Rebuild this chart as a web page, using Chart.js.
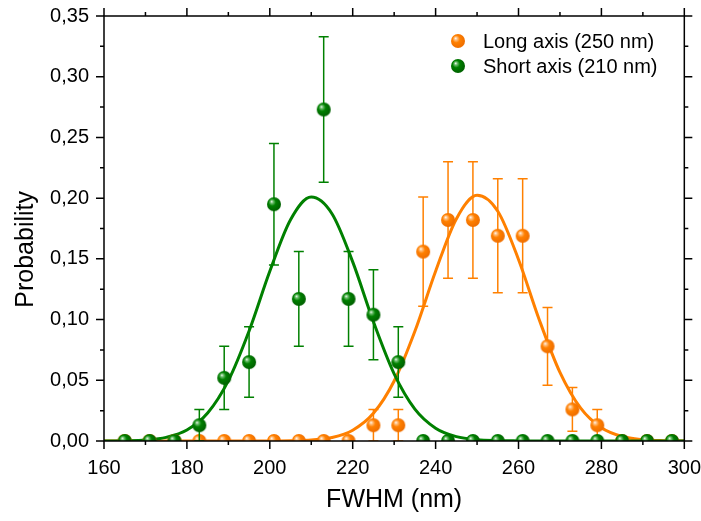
<!DOCTYPE html>
<html>
<head>
<meta charset="utf-8">
<script src="https://cdn.jsdelivr.net/npm/chart.js@4.4.1/dist/chart.umd.min.js"></script>
<style>
body{margin:0;background:#fff}
</style>
</head>
<body>
<canvas id="myChart" width="701" height="521"></canvas>
<script>
// histogram bins (nm) and probabilities
var bins = [165,171,177,183,189,195,201,207,213,219,225,231,237,243,249,255,261,267,273,279,285,291,297]
var longProb = [0,0,0,0,0,0,0,0,0,0,0.013,0.013,0.156,0.182,0.182,0.169,0.169,0.078,0.026,0.013,0,0,0]
var longErr  = [0,0,0,0,0,0,0,0,0,0,0.013,0.013,0.045,0.048,0.048,0.047,0.047,0.032,0.018,0.013,0,0,0]
var shortProb = [0,0,0,0.013,0.052,0.065,0.195,0.117,0.273,0.117,0.104,0.065,0,0,0,0,0,0,0,0,0,0,0]
var shortErr  = [0,0,0,0.013,0.026,0.029,0.050,0.039,0.060,0.039,0.037,0.029,0,0,0,0,0,0,0,0,0,0,0]

// fitted curves
var fitX = [160,165,170,175,180,185,190,195,200,205,210,215,220,225,230,235,240,245,250,255,260,265,270,275,280,285,290,295,300]
var longFit = [0,0,0,0,0,0,0,0,0,0.0002,0.0008,0.0029,0.0089,0.0228,0.0494,0.0904,0.1398,0.1829,0.2023,0.1892,0.1495,0.0999,0.0565,0.0270,0.0109,0.0037,0.0011,0.0003,0.0001]
var shortFit = [0,0.0002,0.0008,0.0030,0.0090,0.0230,0.0497,0.0906,0.1398,0.1822,0.2009,0.1872,0.1475,0.0982,0.0553,0.0263,0.0106,0.0036,0.0010,0.0003,0.0001,0,0,0,0,0,0,0,0]

var labels = ["Long axis (250 nm)", "Short axis (210 nm)"]
var orange = "#FF8000"
var green = "#008000"

Chart.defaults.font.family = "'Liberation Sans', Arial, sans-serif"
Chart.defaults.color = "#000"

function ball(color, light, dark){
    var r = 7
    var c = document.createElement("canvas")
    c.width = 2*r+2
    c.height = 2*r+2
    var g = c.getContext("2d")
    var cx = r+1, cy = r+1
    var grad = g.createRadialGradient(cx-r*0.35, cy-r*0.4, 0, cx-r*0.15, cy-r*0.15, r*1.05)
    grad.addColorStop(0, "#ffffff")
    grad.addColorStop(0.2, light)
    grad.addColorStop(0.5, color)
    grad.addColorStop(1, dark)
    g.fillStyle = grad
    g.beginPath()
    g.arc(cx, cy, r, 0, Math.PI*2)
    g.fill()
    return c
}
var orangeBall = ball(orange, "#ffc080", "#f07000")
var greenBall = ball(green, "#70c070", "#006400")

function pts(xs, ys){
    return xs.map(function(x, i){ return {x: x, y: ys[i]} })
}

// error bars drawn under each dataset's markers
var errorBars = {
    id: "errorBars",
    beforeDatasetDraw: function(chart, args){
        var ds = chart.data.datasets[args.index]
        if(!ds.errors) return
        var ctx = chart.ctx, xs = chart.scales.x, ys = chart.scales.y, a = chart.chartArea
        ctx.save()
        ctx.beginPath()
        ctx.rect(a.left, a.top, a.right-a.left, a.bottom-a.top)
        ctx.clip()
        ctx.strokeStyle = ds.borderColor
        ctx.lineWidth = 1.5
        ds.data.forEach(function(p, i){
            var e = ds.errors[i]
            if(!e) return
            var px = xs.getPixelForValue(p.x)
            var top = ys.getPixelForValue(p.y+e)
            var bot = ys.getPixelForValue(p.y-e)
            ctx.beginPath()
            ctx.moveTo(px, top); ctx.lineTo(px, bot)
            ctx.moveTo(px-5, top); ctx.lineTo(px+5, top)
            ctx.moveTo(px-5, bot); ctx.lineTo(px+5, bot)
            ctx.stroke()
        })
        ctx.restore()
    }
}

// box frame with outward ticks on all four sides
var frame = {
    id: "frame",
    afterDatasetsDraw: function(chart){
        var ctx = chart.ctx, a = chart.chartArea, xs = chart.scales.x, ys = chart.scales.y
        ctx.save()
        ctx.strokeStyle = "#000"
        ctx.lineWidth = 1.5
        ctx.strokeRect(a.left, a.top, a.right-a.left, a.bottom-a.top)
        ctx.beginPath()
        for(var i=0;i<=14;i++){
            var px = xs.getPixelForValue(160+i*10)
            var len = i%2==0 ? 8 : 4
            ctx.moveTo(px, a.bottom); ctx.lineTo(px, a.bottom+len)
            ctx.moveTo(px, a.top); ctx.lineTo(px, a.top-len)
        }
        for(var j=0;j<=14;j++){
            var py = ys.getPixelForValue(j*0.025)
            var len2 = j%2==0 ? 8 : 4
            ctx.moveTo(a.left, py); ctx.lineTo(a.left-len2, py)
            ctx.moveTo(a.right, py); ctx.lineTo(a.right+len2, py)
        }
        ctx.stroke()
        ctx.restore()
    }
}

// legend inside the plot, top right
var ballLegend = {
    id: "ballLegend",
    afterDraw: function(chart){
        var ctx = chart.ctx
        var items = [{img: orangeBall, text: labels[0]}, {img: greenBall, text: labels[1]}]
        ctx.save()
        ctx.font = "20px 'Liberation Sans', Arial, sans-serif"
        ctx.fillStyle = "#000"
        ctx.textBaseline = "middle"
        items.forEach(function(it, i){
            var y = 41 + i*25
            ctx.drawImage(it.img, 458-it.img.width/2, y-it.img.height/2)
            ctx.fillText(it.text, 483, y+1)
        })
        ctx.restore()
    }
}

new Chart("myChart", {
    type: "scatter",
    data: {
        datasets: [
            {label: labels[1], data: pts(bins, shortProb), errors: shortErr, borderColor: green, backgroundColor: green, pointStyle: greenBall, pointRadius: 7, clip: 0},
            {label: labels[0], data: pts(bins, longProb), errors: longErr, borderColor: orange, backgroundColor: orange, pointStyle: orangeBall, pointRadius: 7, clip: 0},
            {data: pts(fitX, shortFit), showLine: true, borderColor: green, borderWidth: 3, pointRadius: 0, cubicInterpolationMode: "monotone", clip: 0},
            {data: pts(fitX, longFit), showLine: true, borderColor: orange, borderWidth: 3, pointRadius: 0, cubicInterpolationMode: "monotone", clip: 0}
        ]
    },
    options: {
        responsive: false,
        animation: false,
        layout: {padding: {top: 16, right: 0, left: 0, bottom: 0}},
        plugins: {legend: {display: false}, tooltip: {enabled: false}},
        scales: {
            x: {
                type: "linear", min: 160, max: 300,
                grid: {drawOnChartArea: false, tickLength: 15, tickColor: "rgba(0,0,0,0)"},
                border: {display: false},
                ticks: {stepSize: 20, font: {size: 20}, padding: 0, maxRotation: 0},
                title: {display: true, text: "FWHM (nm)", font: {size: 25}, padding: {top: 0, bottom: 6}},
                afterFit: function(s){ s.height = 80 }
            },
            y: {
                min: 0, max: 0.35,
                grid: {drawOnChartArea: false, tickLength: 15, tickColor: "rgba(0,0,0,0)"},
                border: {display: false},
                ticks: {stepSize: 0.05, font: {size: 20}, padding: 0,
                    callback: function(v){ return v.toFixed(2).replace(".", ",") }},
                // trailing spaces push the rotated title a little lower, as in the original
                title: {display: true, text: "Probability      ", font: {size: 25}, padding: {top: 11, bottom: 0}},
                afterFit: function(s){ s.width = 104 }
            }
        }
    },
    plugins: [errorBars, frame, ballLegend]
})
</script>
</body>
</html>
